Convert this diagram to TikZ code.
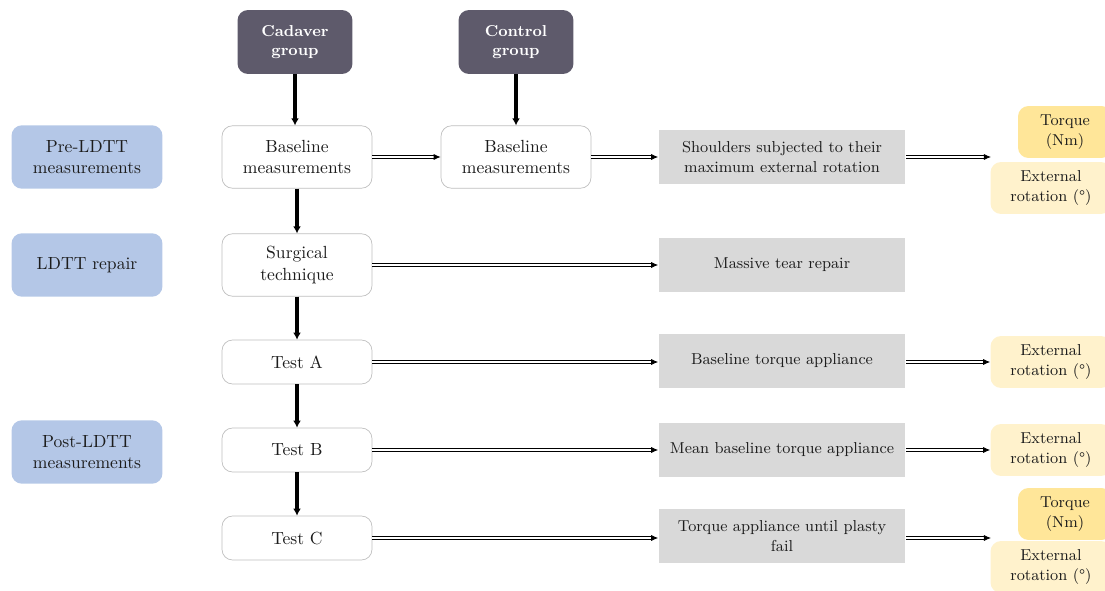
\documentclass[tikz,border=0pt]{standalone}
\usepackage{fontspec}
\usetikzlibrary{positioning,arrows.meta}
\definecolor{Group}{HTML}{5E5A6B}
\definecolor{Phase}{HTML}{B4C7E7}
\definecolor{Action}{HTML}{D9D9D9}
\definecolor{Torque}{HTML}{FFE699}
\definecolor{Rotation}{HTML}{FFF2CC}
\definecolor{Frame}{HTML}{BFBFBF}
\definecolor{Ink}{HTML}{1C1C1C}
\begin{document}
\begin{tikzpicture}[x=0.02cm,y=-0.02cm,every node/.style={text=Ink,align=center,inner sep=2pt},groupbox/.style={fill=Group,rounded corners=6pt,minimum width=2.3cm,minimum height=1.28cm,text=white,font=\small\bfseries},phasebox/.style={fill=Phase,rounded corners=6pt,minimum width=3.02cm,minimum height=1.27cm},stepbox/.style={draw=Frame,fill=white,rounded corners=6pt,minimum width=3cm,minimum height=1.25cm},testbox/.style={stepbox,minimum height=0.88cm},actionbox/.style={fill=Action,minimum width=4.94cm,minimum height=1.08cm,font=\small},torquebox/.style={fill=Torque,rounded corners=6pt,minimum width=1.88cm,minimum height=1.04cm,font=\small},rotbox/.style={fill=Rotation,rounded corners=6pt,minimum width=2.42cm,minimum height=1.04cm,font=\small},vflow/.style={line width=2pt,-{Latex[length=4pt,width=4.5pt]}},hflow/.style={double,double distance=0.8pt,line width=0.5pt,-{Latex[length=4pt,width=3.5pt]}}]
\useasboundingbox (0,0) rectangle (1105,591);
\def\xphase{87}\def\xstep{297}\def\xcontrol{516}\def\xaction{782}\def\xtorque{1065}\def\xrot{1051}
\def\yone{157}\def\ytwo{265}\def\ythree{362}\def\yfour{450}\def\yfive{538}
% groups and phases
\node[groupbox] (cadaver) at (295,42) {Cadaver\\group};\node[groupbox] (control) at (\xcontrol,42) {Control\\group};
\node[phasebox] (pre) at (\xphase,\yone) {Pre-LDTT\\measurements};\node[phasebox] (repair) at (\xphase,\ytwo) {LDTT repair};\node[phasebox] (post) at (\xphase,452) {Post-LDTT\\measurements};
% steps
\node[stepbox] (base1) at (\xstep,\yone) {Baseline\\measurements};\node[stepbox] (base2) at (\xcontrol,\yone) {Baseline\\measurements};
\node[stepbox] (surgical) at (\xstep,\ytwo) {Surgical\\technique};\node[testbox] (testA) at (\xstep,\ythree) {Test A};\node[testbox] (testB) at (\xstep,\yfour) {Test B};\node[testbox] (testC) at (\xstep,\yfive) {Test C};
% actions
\node[actionbox] (shoulders) at (\xaction,\yone) {Shoulders subjected to their\\maximum external rotation};\node[actionbox] (massive) at (\xaction,\ytwo) {Massive tear repair};
\node[actionbox] (basetorque) at (\xaction,361) {Baseline torque appliance};\node[actionbox] (meantorque) at (\xaction,\yfour) {Mean baseline torque appliance};\node[actionbox] (untilfail) at (\xaction,536) {Torque appliance until plasty\\fail};
% outcomes
\node[torquebox] (torque1) at (\xtorque,132) {Torque\\(Nm)};\node[rotbox] (rot1) at (\xrot,188) {External\\rotation (°)};
\node[rotbox] (rot2) at (\xrot,\ythree) {External\\rotation (°)};\node[rotbox] (rot3) at (\xrot,\yfour) {External\\rotation (°)};
\node[torquebox] (torque3) at (\xtorque,514) {Torque\\(Nm)};\node[rotbox] (rot4) at (\xrot,567) {External\\rotation (°)};
\coordinate (out1) at (991,\yone);\coordinate (out5) at (991,\yfive);
% connectors
\draw[vflow] (cadaver.south) -- (cadaver.south |- base1.north);\draw[vflow] (control.south) -- (base2.north);
\draw[vflow] (base1) -- (surgical);\draw[vflow] (surgical) -- (testA);\draw[vflow] (testA) -- (testB);\draw[vflow] (testB) -- (testC);
\draw[hflow] (base1) -- (base2);\draw[hflow] (base2) -- (shoulders);\draw[hflow] (shoulders) -- (out1);
\draw[hflow] (surgical) -- (massive);
\draw[hflow] (testA.east) -- (testA.east -| basetorque.west);\draw[hflow] (basetorque.east |- rot2.west) -- (rot2.west);
\draw[hflow] (testB) -- (meantorque);\draw[hflow] (meantorque) -- (rot3);
\draw[hflow] (testC.east) -- (testC.east -| untilfail.west);\draw[hflow] (untilfail.east |- out5) -- (out5);
\end{tikzpicture}
\end{document}
